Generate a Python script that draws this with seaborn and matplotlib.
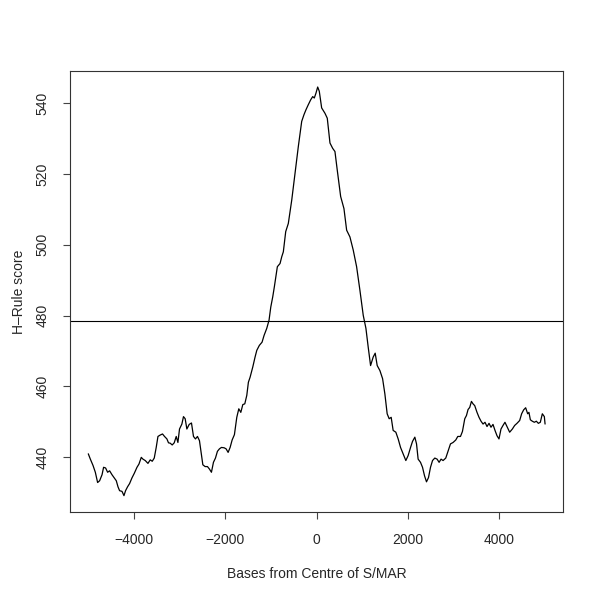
import matplotlib
matplotlib.use('Agg')
import matplotlib.pyplot as plt
import seaborn as sns
import pandas as pd

# H-Rule score profile around the S/MAR centre
bases = [
    -5000, -4955, -4896, -4846, -4796, -4752, -4699, -4665, -4621, -4577,
    -4533, -4481, -4431, -4387, -4350, -4315, -4262, -4219, -4184, -4140,
    -4096, -4044, -3993, -3934, -3891, -3840, -3803, -3753, -3694, -3644,
    -3600, -3556, -3513, -3475, -3425, -3375, -3331, -3279, -3244, -3207,
    -3163, -3119, -3075, -3038, -3003, -2951, -2916, -2879, -2842, -2791,
    -2741, -2697, -2654, -2610, -2566, -2529, -2492, -2442, -2391, -2348,
    -2304, -2260, -2216, -2173, -2129, -2085, -2026, -1983, -1939, -1895,
    -1851, -1801, -1749, -1705, -1661, -1617, -1574, -1530, -1495, -1458,
    -1399, -1349, -1311, -1255, -1196, -1152, -1093, -1043, -1005, -962,
    -927, -890, -861, -802, -765, -730, -678, -621, -546, -474,
    -402, -328, -278, -234, -184, -131, -87, -52, -15, 22,
    57, 109, 181, 232, 291, 350, 400, 450, 525, 597,
    656, 728, 800, 874, 946, 1019, 1078, 1128, 1180, 1237,
    1281, 1325, 1384, 1443, 1493, 1543, 1587, 1631, 1674, 1733,
    1784, 1836, 1893, 1952, 2002, 2055, 2098, 2149, 2186, 2221,
    2273, 2317, 2361, 2404, 2448, 2492, 2536, 2586, 2636, 2680,
    2723, 2767, 2826, 2876, 2929, 2986, 3045, 3089, 3148, 3191,
    3242, 3279, 3314, 3351, 3388, 3423, 3460, 3510, 3554, 3598,
    3642, 3685, 3729, 3773, 3816, 3860, 3904, 3948, 3991, 4035,
    4079, 4122, 4166, 4225, 4284, 4334, 4385, 4444, 4487, 4531,
    4575, 4619, 4647, 4678, 4721, 4765, 4809, 4853, 4896, 4940,
    4984, 5000,
]
score = [
    441.0, 439.5, 437.7, 435.8, 432.9, 433.4, 435.1, 437.2, 437.0, 435.8,
    436.2, 435.1, 434.2, 433.4, 431.7, 430.6, 430.4, 429.2, 430.6, 431.7,
    432.6, 434.2, 435.5, 437.2, 438.1, 440.0, 439.5, 439.1, 438.3, 439.3,
    438.9, 439.8, 442.8, 445.9, 446.3, 446.6, 445.9, 445.2, 444.1, 444.0,
    443.5, 444.1, 445.9, 444.2, 448.0, 449.4, 451.5, 450.9, 448.0, 449.3,
    449.7, 445.9, 445.2, 445.9, 444.7, 441.4, 437.9, 437.4, 437.4, 436.7,
    435.8, 438.6, 439.8, 441.7, 442.4, 442.8, 442.7, 442.4, 441.4, 442.8,
    444.9, 446.4, 451.3, 453.7, 452.7, 454.9, 455.1, 457.5, 461.2, 462.6,
    465.5, 468.3, 470.2, 471.6, 472.5, 474.4, 476.4, 478.7, 482.4, 485.3,
    488.1, 491.4, 493.8, 494.7, 496.6, 498.0, 503.7, 506.0, 512.6, 520.2,
    527.7, 534.8, 536.7, 538.1, 539.5, 540.9, 541.8, 541.4, 542.8, 544.5,
    543.3, 538.6, 537.1, 535.7, 528.7, 527.2, 526.3, 521.1, 513.6, 510.2,
    504.1, 502.2, 498.5, 493.8, 487.2, 480.1, 476.4, 471.1, 465.9, 468.3,
    469.4, 465.9, 464.5, 462.2, 457.9, 452.3, 450.9, 451.3, 447.6, 447.1,
    445.2, 442.8, 441.0, 439.1, 440.5, 442.8, 444.5, 445.7, 443.8, 439.5,
    438.6, 437.2, 434.8, 433.1, 434.3, 437.2, 439.1, 439.8, 439.5, 438.6,
    439.5, 439.1, 439.8, 441.7, 443.8, 444.2, 444.9, 445.9, 445.9, 447.3,
    450.9, 451.8, 453.5, 454.1, 455.8, 455.1, 454.6, 452.7, 451.3, 450.2,
    449.4, 449.9, 448.7, 449.6, 448.5, 449.3, 447.6, 446.1, 445.2, 448.0,
    449.0, 449.9, 448.7, 447.1, 448.0, 449.0, 449.6, 450.4, 452.3, 453.4,
    454.0, 452.3, 452.7, 450.6, 450.2, 449.9, 450.2, 449.6, 449.9, 452.3,
    451.5, 449.4,
]
threshold = 478.5
x_ticks = [-4000, -2000, 0, 2000, 4000]
y_ticks = [440, 460, 480, 500, 520, 540]

sns.set_style("ticks")
plt.rcParams['font.family'] = ['Liberation Sans', 'DejaVu Sans']
plt.rcParams['axes.unicode_minus'] = True

df = pd.DataFrame({"bases": bases, "score": score})

fig = plt.figure(figsize=(6, 6), dpi=100)
ax = fig.add_axes([0.1167, 0.1467, 0.8222, 0.7355])

sns.lineplot(data=df, x="bases", y="score", ax=ax, color="black", linewidth=0.9)
ax.axhline(threshold, color="black", linewidth=0.8)

# R-style 4% padding
xr = max(bases) - min(bases)
yr = max(score) - min(score)
ax.set_xlim(min(bases) - 0.04 * xr, max(bases) + 0.04 * xr)
ax.set_ylim(min(score) - 0.04 * yr, max(score) + 0.04 * yr)

ax.set_xticks(x_ticks)
ax.set_yticks(y_ticks)
ax.set_xticklabels([f"{v}".replace("-", "\u2212") for v in x_ticks])
ax.set_yticklabels([str(v) for v in y_ticks], rotation=90, va="center")
ax.tick_params(axis="both", direction="out", length=5, width=0.8,
               color="#444444", labelsize=10, pad=10)

for sp in ax.spines.values():
    sp.set_visible(True)
    sp.set_color("#333333")
    sp.set_linewidth(0.8)

ax.set_xlabel("Bases from Centre of S/MAR", fontsize=10)
ax.set_ylabel("H\u2013Rule score", fontsize=10)
ax.xaxis.set_label_coords(0.5, -0.125)
ax.yaxis.set_label_coords(-0.09, 0.5)

fig.savefig("out.png", dpi=100, facecolor="white")
